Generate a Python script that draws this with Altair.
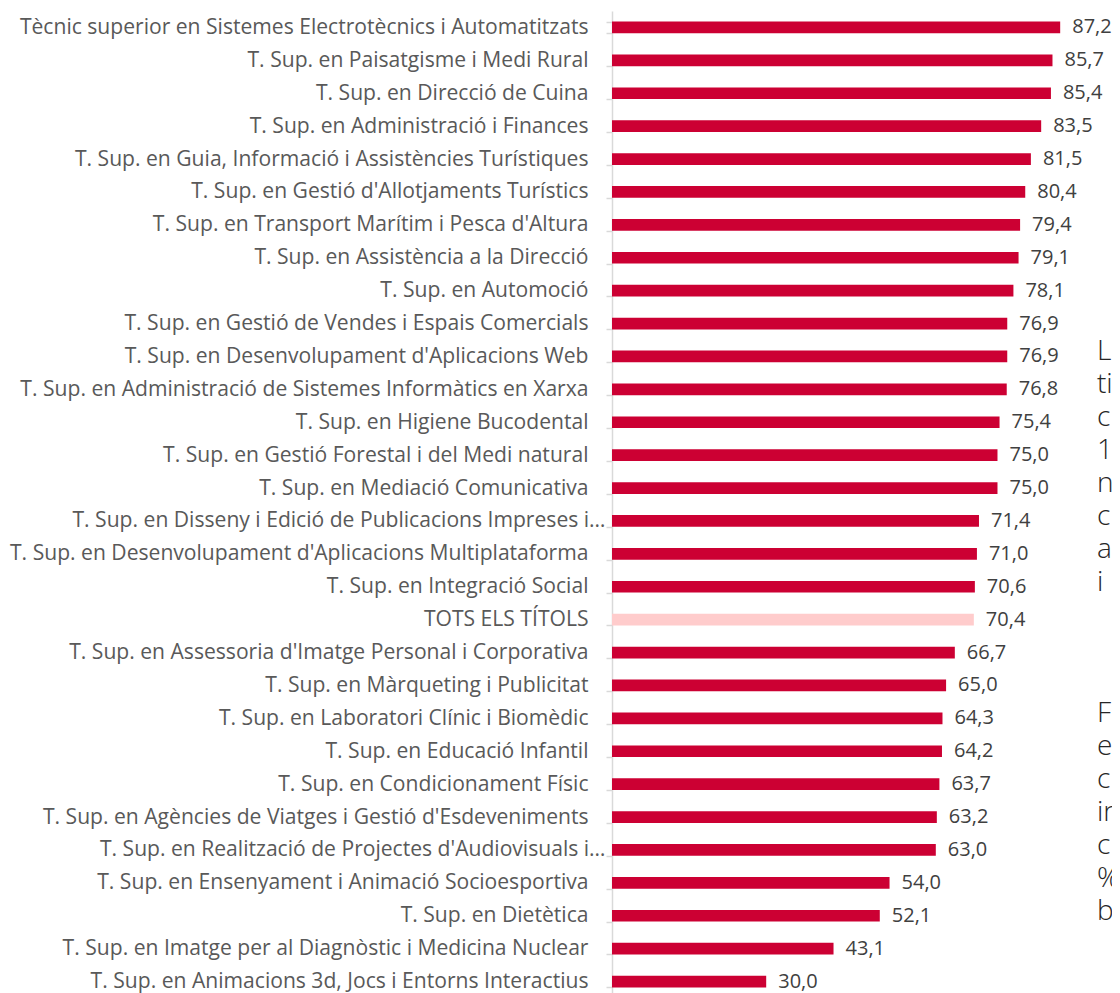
import altair as alt
import pandas as pd

categories = [
    "Tècnic superior en Sistemes Electrotècnics i Automatitzats",
    "T. Sup. en Paisatgisme i Medi Rural",
    "T. Sup. en Direcció de Cuina",
    "T. Sup. en Administració i Finances",
    "T. Sup. en Guia, Informació i Assistències Turístiques",
    "T. Sup. en Gestió d'Allotjaments Turístics",
    "T. Sup. en Transport Marítim i Pesca d'Altura",
    "T. Sup. en Assistència a la Direcció",
    "T. Sup. en Automoció",
    "T. Sup. en Gestió de Vendes i Espais Comercials",
    "T. Sup. en Desenvolupament d'Aplicacions Web",
    "T. Sup. en Administració de Sistemes Informàtics en Xarxa",
    "T. Sup. en Higiene Bucodental",
    "T. Sup. en Gestió Forestal i del Medi natural",
    "T. Sup. en Mediació Comunicativa",
    "T. Sup. en Disseny i Edició de Publicacions Impreses i…",
    "T. Sup. en Desenvolupament d'Aplicacions Multiplataforma",
    "T. Sup. en Integració Social",
    "TOTS ELS TÍTOLS",
    "T. Sup. en Assessoria d'Imatge Personal i Corporativa",
    "T. Sup. en Màrqueting i Publicitat",
    "T. Sup. en Laboratori Clínic i Biomèdic",
    "T. Sup. en Educació Infantil",
    "T. Sup. en Condicionament Físic",
    "T. Sup. en Agències de Viatges i Gestió d'Esdeveniments",
    "T. Sup. en Realització de Projectes d'Audiovisuals i…",
    "T. Sup. en Ensenyament i Animació Socioesportiva",
    "T. Sup. en Dietètica",
    "T. Sup. en Imatge per al Diagnòstic i Medicina Nuclear",
    "T. Sup. en Animacions 3d, Jocs i Entorns Interactius",
]
values = [87.2, 85.7, 85.4, 83.5, 81.5, 80.4, 79.4, 79.1, 78.1, 76.9,
          76.9, 76.8, 75.4, 75.0, 75.0, 71.4, 71.0, 70.6, 70.4, 66.7,
          65.0, 64.3, 64.2, 63.7, 63.2, 63.0, 54.0, 52.1, 43.1, 30.0]
highlight = "TOTS ELS TÍTOLS"

# clipped fragments of an overlapping text box at the right edge, by row
frag_text = ["L", "ti", "c", "1", "n", "c", "a", "i",
             "F", "e", "c", "ir", "c", "%", "b"]
frag_rows = [10, 11, 12, 13, 14, 15, 16, 17,
             21, 22, 23, 24, 25, 26, 27]

df = pd.DataFrame({"cat": categories, "val": values})
df["grp"] = ["total" if c == highlight else "title" for c in categories]
df["lbl"] = [f"{v:.1f}".replace(".", ",") for v in values]

df_frag = pd.DataFrame({"cat": [categories[i] for i in frag_rows], "txt": frag_text})

FONT = "Open Sans"

y_enc = alt.Y(
    "cat:N",
    sort=categories,
    title=None,
    scale=alt.Scale(paddingInner=0.645, paddingOuter=0.3225),
    axis=alt.Axis(
        domainColor="#d9d9d9",
        domainWidth=1.5,
        tickColor="#d9d9d9",
        tickWidth=1.5,
        tickSize=6,
        tickBand="extent",
        labelFont=FONT,
        labelFontSize=21.1,
        labelColor="#595959",
        labelLimit=800,
        labelPadding={"condition": {"test": "indexof(datum.label, '…') >= 0", "value": 1}, "value": 18},
    ),
)
x_enc = alt.X("val:Q", scale=alt.Scale(domain=[0, 97.28], nice=False, zero=True), axis=None)

bars = alt.Chart(df).mark_bar().encode(
    x=x_enc,
    y=y_enc,
    color=alt.Color("grp:N", scale=alt.Scale(domain=["title", "total"], range=["#CC0033", "#FFCCCC"]), legend=None),
)

labels = alt.Chart(df).mark_text(
    align="left", baseline="middle", dx=12, font=FONT, fontSize=20, color="#404040"
).encode(x=x_enc, y=alt.Y("cat:N", sort=categories), text="lbl:N")

frags = alt.Chart(df_frag).mark_text(
    align="left", baseline="middle", dy=-4, font=FONT, fontSize=28, fontWeight=300, color="#262626"
).encode(x=alt.value(485), y=alt.Y("cat:N", sort=categories), text="txt:N")

chart = alt.layer(bars, labels, frags).properties(
    width=500,
    height=987,
    autosize=alt.AutoSizeParams(type="none"),
    padding={"left": 604, "top": 3, "right": 0, "bottom": 0},
).configure_view(stroke=None)

chart.save("out.html", embed_options={"renderer": "svg", "actions": False})
